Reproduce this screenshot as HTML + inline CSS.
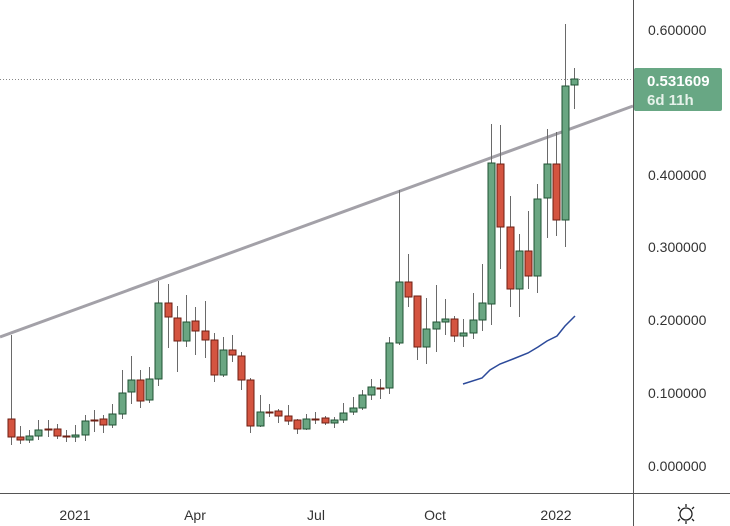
<!DOCTYPE html>
<html><head><meta charset="utf-8"><style>
html,body{margin:0;padding:0;background:#fff;}
svg{display:block;font-family:"Liberation Sans",sans-serif;}
</style></head><body>
<svg id="s" width="730" height="526" viewBox="0 0 730 526" xmlns="http://www.w3.org/2000/svg">
<rect width="730" height="526" fill="#fff"/>
<line x1="0" y1="337" x2="633" y2="106" stroke="#a3a1a8" stroke-width="3"/>
<line x1="0" y1="79.5" x2="633" y2="79.5" stroke="#888" stroke-width="1" stroke-dasharray="1,2"/>
<polyline points="463,384 482,378 490,370 500,364 513,359 528,353 538,347 547,341 557,336 565,326 575,316" fill="none" stroke="#2c4a9a" stroke-width="1.5"/>
<g id="c"></g>
<line x1="633.5" y1="0" x2="633.5" y2="526" stroke="#555" stroke-width="1"/>
<line x1="0" y1="493.5" x2="730" y2="493.5" stroke="#555" stroke-width="1"/>
<g fill="#333" font-size="14">
<text x="648" y="35">0.600000</text>
<text x="648" y="180">0.400000</text>
<text x="648" y="252">0.300000</text>
<text x="648" y="325">0.200000</text>
<text x="648" y="398">0.100000</text>
<text x="648" y="471">0.000000</text>
<g text-anchor="middle"><text x="75" y="520">2021</text><text x="195" y="520">Apr</text><text x="316" y="520">Jul</text><text x="435" y="520">Oct</text><text x="556" y="520">2022</text></g>
</g>
<rect x="634" y="68" width="88" height="43" rx="2" fill="#68a784"/>
<text x="647" y="86" fill="#fff" font-size="15" font-weight="bold">0.531609</text>
<text x="647" y="105" fill="#e6f2ea" font-size="15" font-weight="bold">6d 11h</text>
<g stroke="#222" stroke-width="1.3" fill="none"><circle cx="686" cy="514" r="6"/>
<line x1="686" y1="504" x2="686" y2="507"/><line x1="686" y1="521" x2="686" y2="524"/><line x1="678" y1="507" x2="680" y2="509"/><line x1="692" y1="509" x2="694" y2="507"/><line x1="678" y1="521" x2="680" y2="519"/><line x1="692" y1="519" x2="694" y2="521"/></g>
</svg>
<script>
// x, open, close, high, low (pixel y)
var d=[[11,419,437,335,445],[20,437,440,426,444],[29,440,436,430,443],[38,436,430,420,440],[48,429,429,420,437],[57,429,436,424,439],[66,436,437,430,442],[75,437,435,425,442],[85,435,421,415,441],[94,420,420,410,432],[103,419,425,415,433],[112,425,414,404,428],[122,414,393,370,419],[131,392,380,356,404],[140,380,401,370,408],[149,400,379,367,403],[158,379,303,281,386],[168,303,317,284,348],[177,318,341,306,372],[186,341,322,295,347],[195,321,331,307,355],[205,331,340,301,358],[214,340,375,333,382],[223,375,350,337,377],[232,350,355,335,362],[241,356,380,352,390],[250,380,426,378,433],[260,426,412,395,427],[269,412,412,404,417],[278,411,416,409,423],[288,416,421,405,425],[297,420,429,419,434],[306,429,419,414,430],[315,419,419,412,424],[325,418,423,416,425],[334,423,420,417,428],[343,420,413,403,423],[353,412,408,397,415],[362,408,395,390,410],[371,395,387,379,400],[380,388,388,379,399],[389,388,343,337,394],[399,343,282,190,345],[408,282,297,254,307],[417,296,347,296,360],[426,347,329,298,364],[436,329,322,285,352],[445,322,319,299,335],[454,319,336,316,342],[463,336,333,319,347],[473,333,320,293,339],[482,320,303,264,331],[491,304,163,124,325],[500,164,227,125,269],[510,227,289,196,307],[519,289,251,234,317],[528,251,276,211,289],[537,276,199,184,293],[547,198,164,129,238],[556,164,220,132,236],[565,220,86,24,247],[574,85,79,68,109]];
var g=document.getElementById('c'),h='';
d.forEach(function(c){var x=c[0],o=c[1],cl=c[2],up=cl<=o&&!(cl==o&&false);var t=Math.min(o,cl),b=Math.max(o,cl);
var bull=cl<o;var fill=bull?'#6aa682':'#d45440',st=bull?'#1f5233':'#6e1e12';
h+='<line x1="'+(x+.5)+'" y1="'+c[3]+'" x2="'+(x+.5)+'" y2="'+c[4]+'" stroke="#6a6a6a" stroke-width="1"/>';
if(b-t<1.5){h+='<rect x="'+(x-3.5)+'" y="'+(t-0.5)+'" width="8" height="2" fill="'+st+'"/>';}
else h+='<rect x="'+(x-3)+'" y="'+t+'" width="7" height="'+(b-t)+'" fill="'+fill+'" stroke="'+st+'" stroke-width="1"/>';});
g.innerHTML=h;
</script>
</body></html>
